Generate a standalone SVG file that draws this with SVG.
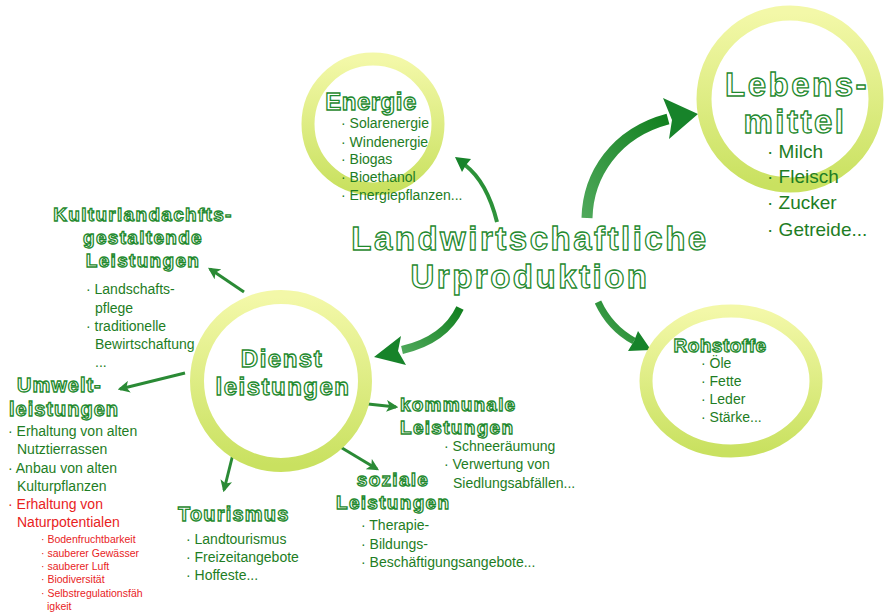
<svg xmlns="http://www.w3.org/2000/svg" width="886" height="614" viewBox="0 0 886 614">
<defs>
<linearGradient id="ring" x1="0" y1="0" x2="0" y2="1">
<stop offset="0" stop-color="#f3f8a8"/>
<stop offset="1" stop-color="#c9e160"/>
</linearGradient>
<linearGradient id="arr" x1="0" y1="1" x2="1" y2="0">
<stop offset="0" stop-color="#4ea85a"/>
<stop offset="1" stop-color="#12801f"/>
</linearGradient>
<marker id="ah" viewBox="0 0 10 10" refX="8" refY="5" markerWidth="12" markerHeight="12" markerUnits="userSpaceOnUse" orient="auto">
<path d="M0,0 L10,5 L0,10 L2.5,5 Z" fill="#2a8a35"/>
</marker>
</defs>
<style>
.ring{fill:none;stroke:url(#ring)}
.t{font-family:"Liberation Sans",Arial,sans-serif;font-weight:bold;fill:#ffffff;stroke:#1f8a2e;stroke-width:1.3}
.i{font-family:"Liberation Sans",Arial,sans-serif;fill:#1e7d24;font-size:14px}
.r{fill:#e8231e}
.thin{fill:none;stroke:#2a8a35;stroke-width:3;marker-end:url(#ah)}
.big{fill:none;stroke:url(#arr);stroke-linecap:butt}
.head{fill:#17832a}
</style>
<rect width="886" height="614" fill="#ffffff"/>

<g id="connectors">
<path class="big" d="M587,218 C588,175 615,133 668,119" stroke-width="11"/>
<polygon class="head" points="698,114 663,98 672,120 669,139"/>
<path class="big" d="M460,308 Q445,340 402,350" stroke-width="8"/>
<polygon class="head" points="374,357 401,336 398,351 406,365"/>
<path class="big" d="M598,302 Q610,328 634,341" stroke-width="7"/>
<polygon class="head" points="651,350 638,331 634,341 628,351"/>
<path class="big" d="M497,222 Q487,182 465,165" stroke-width="4"/>
<polygon class="head" points="455,157 471,159 466,165 462,172"/>
<line class="thin" x1="244" y1="292" x2="210" y2="269"/>
<line class="thin" x1="185" y1="373" x2="120" y2="389"/>
<line class="thin" x1="233" y1="454" x2="224" y2="490"/>
<line class="thin" x1="368" y1="404" x2="396" y2="407"/>
<line class="thin" x1="337" y1="445" x2="377" y2="469"/>
</g>

<g id="center">
<text class="t" x="530" y="250" font-size="33" letter-spacing="2.5" text-anchor="middle" stroke-width="1.6">Landwirtschaftliche</text>
<text class="t" x="530" y="288" font-size="33" letter-spacing="2.5" text-anchor="middle" stroke-width="1.6">Urproduktion</text>
</g>

<g id="energie">
<circle class="ring" cx="373" cy="124" r="65" stroke-width="13"/>
<text class="t" x="371" y="110" font-size="24" letter-spacing="0.5" text-anchor="middle">Energie</text>
<g class="i">
<text x="341" y="128">· Solarenergie</text>
<text x="341" y="147">· Windenergie</text>
<text x="341" y="164">· Biogas</text>
<text x="341" y="182">· Bioethanol</text>
<text x="341" y="200">· Energiepflanzen...</text>
</g>
</g>

<g id="lebensmittel">
<circle class="ring" cx="790" cy="99" r="86" stroke-width="15"/>
<text class="t" x="797" y="96" font-size="33" letter-spacing="2.5" text-anchor="middle" stroke-width="1.6">Lebens-</text>
<text class="t" x="795" y="133" font-size="33" letter-spacing="2.5" text-anchor="middle" stroke-width="1.6">mittel</text>
<g class="i" style="font-size:19px">
<text x="767" y="158">· Milch</text>
<text x="767" y="183">· Fleisch</text>
<text x="767" y="209">· Zucker</text>
<text x="767" y="236">· Getreide...</text>
</g>
</g>

<g id="rohstoffe">
<ellipse class="ring" cx="731" cy="381" rx="85" ry="70" stroke-width="13"/>
<text class="t" x="720" y="352" font-size="19" letter-spacing="0.5" text-anchor="middle" stroke-width="1.1">Rohstoffe</text>
<g class="i">
<text x="701" y="368">· Öle</text>
<text x="701" y="386">· Fette</text>
<text x="701" y="404">· Leder</text>
<text x="701" y="422">· Stärke...</text>
</g>
</g>

<g id="dienstleistungen">
<circle class="ring" cx="281" cy="381" r="84" stroke-width="14"/>
<text class="t" x="282" y="367" font-size="24" letter-spacing="1.5" text-anchor="middle">Dienst</text>
<text class="t" x="283" y="395" font-size="24" letter-spacing="1.5" text-anchor="middle">leistungen</text>
</g>

<g id="kultur">
<text class="t" x="143" y="221" font-size="19" letter-spacing="1.3" text-anchor="middle" stroke-width="1.1">Kulturlandachfts-</text>
<text class="t" x="143" y="244" font-size="19" letter-spacing="1.3" text-anchor="middle" stroke-width="1.1">gestaltende</text>
<text class="t" x="143" y="267" font-size="19" letter-spacing="1.3" text-anchor="middle" stroke-width="1.1">Leistungen</text>
<g class="i">
<text x="86" y="294">· Landschafts-</text>
<text x="95" y="313">pflege</text>
<text x="86" y="331">· traditionelle</text>
<text x="95" y="349">Bewirtschaftung</text>
<text x="95" y="367">...</text>
</g>
</g>

<g id="umwelt">
<text class="t" x="17" y="392" font-size="20" letter-spacing="1" stroke-width="1.1">Umwelt-</text>
<text class="t" x="9" y="416" font-size="20" letter-spacing="1" stroke-width="1.1">leistungen</text>
<g class="i">
<text x="8" y="436">· Erhaltung von alten</text>
<text x="17" y="454">Nutztierrassen</text>
<text x="8" y="473">· Anbau von alten</text>
<text x="17" y="491">Kulturpflanzen</text>
<text x="8" y="509" class="r">· Erhaltung von</text>
<text x="17" y="527" class="r">Naturpotentialen</text>
</g>
<g class="i r" style="font-size:10.5px">
<text x="41" y="543">· Bodenfruchtbarkeit</text>
<text x="41" y="557">· sauberer Gewässer</text>
<text x="41" y="570">· sauberer Luft</text>
<text x="41" y="583">· Biodiversität</text>
<text x="41" y="597">· Selbstregulationsfäh</text>
<text x="47" y="610">igkeit</text>
</g>
</g>

<g id="tourismus">
<text class="t" x="178" y="521" font-size="20" letter-spacing="1.2" stroke-width="1.1">Tourismus</text>
<g class="i">
<text x="186" y="544">· Landtourismus</text>
<text x="186" y="562">· Freizeitangebote</text>
<text x="186" y="580">· Hoffeste...</text>
</g>
</g>

<g id="kommunale">
<text class="t" x="400" y="411" font-size="19" letter-spacing="1.2" stroke-width="1.1">kommunale</text>
<text class="t" x="400" y="434" font-size="19" letter-spacing="1.3" stroke-width="1.1">Leistungen</text>
<g class="i">
<text x="444" y="451">· Schneeräumung</text>
<text x="444" y="469">· Verwertung von</text>
<text x="453" y="488">Siedlungsabfällen...</text>
</g>
</g>

<g id="soziale">
<text class="t" x="393" y="486" font-size="19" letter-spacing="1.3" text-anchor="middle" stroke-width="1.1">soziale</text>
<text class="t" x="336" y="509" font-size="19" letter-spacing="1.3" stroke-width="1.1">Leistungen</text>
<g class="i">
<text x="361" y="530">· Therapie-</text>
<text x="361" y="549">· Bildungs-</text>
<text x="361" y="567">· Beschäftigungsangebote...</text>
</g>
</g>
</svg>
